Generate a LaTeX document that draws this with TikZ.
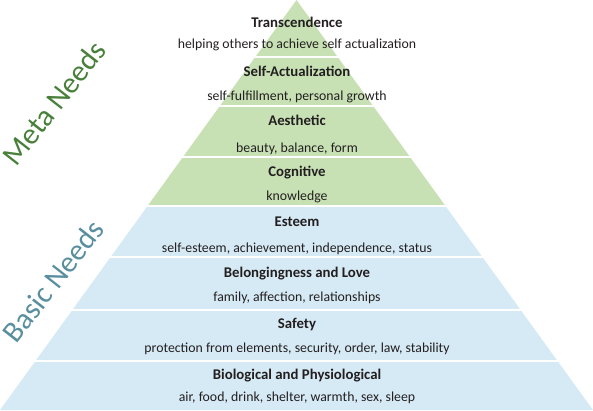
\documentclass[tikz,border=0pt]{standalone}
\usepackage{fontspec}
\setmainfont{Carlito}
\usetikzlibrary{positioning}
\definecolor{metagreen}{RGB}{199,225,181}
\definecolor{basicblue}{RGB}{214,234,245}
\definecolor{metatext}{RGB}{72,128,58}
\definecolor{basictext}{RGB}{88,142,158}
\definecolor{lvltext}{RGB}{35,31,32}
\tikzset{
  lvltitle/.style={font=\bfseries\fontsize{14.8}{16}\selectfont, text=lvltext, inner sep=0pt},
  lvldesc/.style={font=\fontsize{13.8}{15}\selectfont, text=lvltext, inner sep=0pt},
  sidelabel/.style={font=\fontsize{30}{34}\selectfont, rotate=52, inner sep=0pt}
}

\begin{document}
\begin{tikzpicture}[x=1pt,y=-1pt]
  \useasboundingbox (0,0) rectangle (593,410);
  % pyramid: meta part on top, basic part below
  \fill[metagreen] (296.5,0) -- ({296.5-296.5/410*206},206) -- ({296.5+296.5/410*206},206) -- cycle;
  \fill[basicblue] ({296.5-296.5/410*206},206) -- (0,410) -- (593,410) -- ({296.5+296.5/410*206},206) -- cycle;
  \foreach \y in {57,106,157,206,257,310,361}
    \draw[white,line width=1.6pt] ({296.5-296.5/410*\y-1},\y) -- ({296.5+296.5/410*\y+1},\y);
  % levels
  \foreach \tb/\db/\ttl/\txt [count=\i] in {
      27/48/Transcendence/{helping others to achieve self actualization},
      76/100/Self-Actualization/{self-fulfillment, personal growth},
      125/152/Aesthetic/{beauty, balance, form},
      176/200/Cognitive/knowledge,
      226/252/Esteem/{self-esteem, achievement, independence, status},
      277/301/Belongingness and Love/{family, affection, relationships},
      328/352/Safety/{protection from elements, security, order, law, stability},
      379/401/Biological and Physiological/{air, food, drink, shelter, warmth, sex, sleep}}
  {
    \node[lvltitle, anchor=base] (title\i) at (297,\tb) {\ttl};
    \node[lvldesc, anchor=base] (desc\i) at (297,\db) {\txt};
  }
  % side labels
  \node[sidelabel, text=metatext] (meta) at (54,103) {Meta Needs};
  \node[sidelabel, text=basictext] (basic) at (53,281) {Basic Needs};
\end{tikzpicture}
\end{document}
